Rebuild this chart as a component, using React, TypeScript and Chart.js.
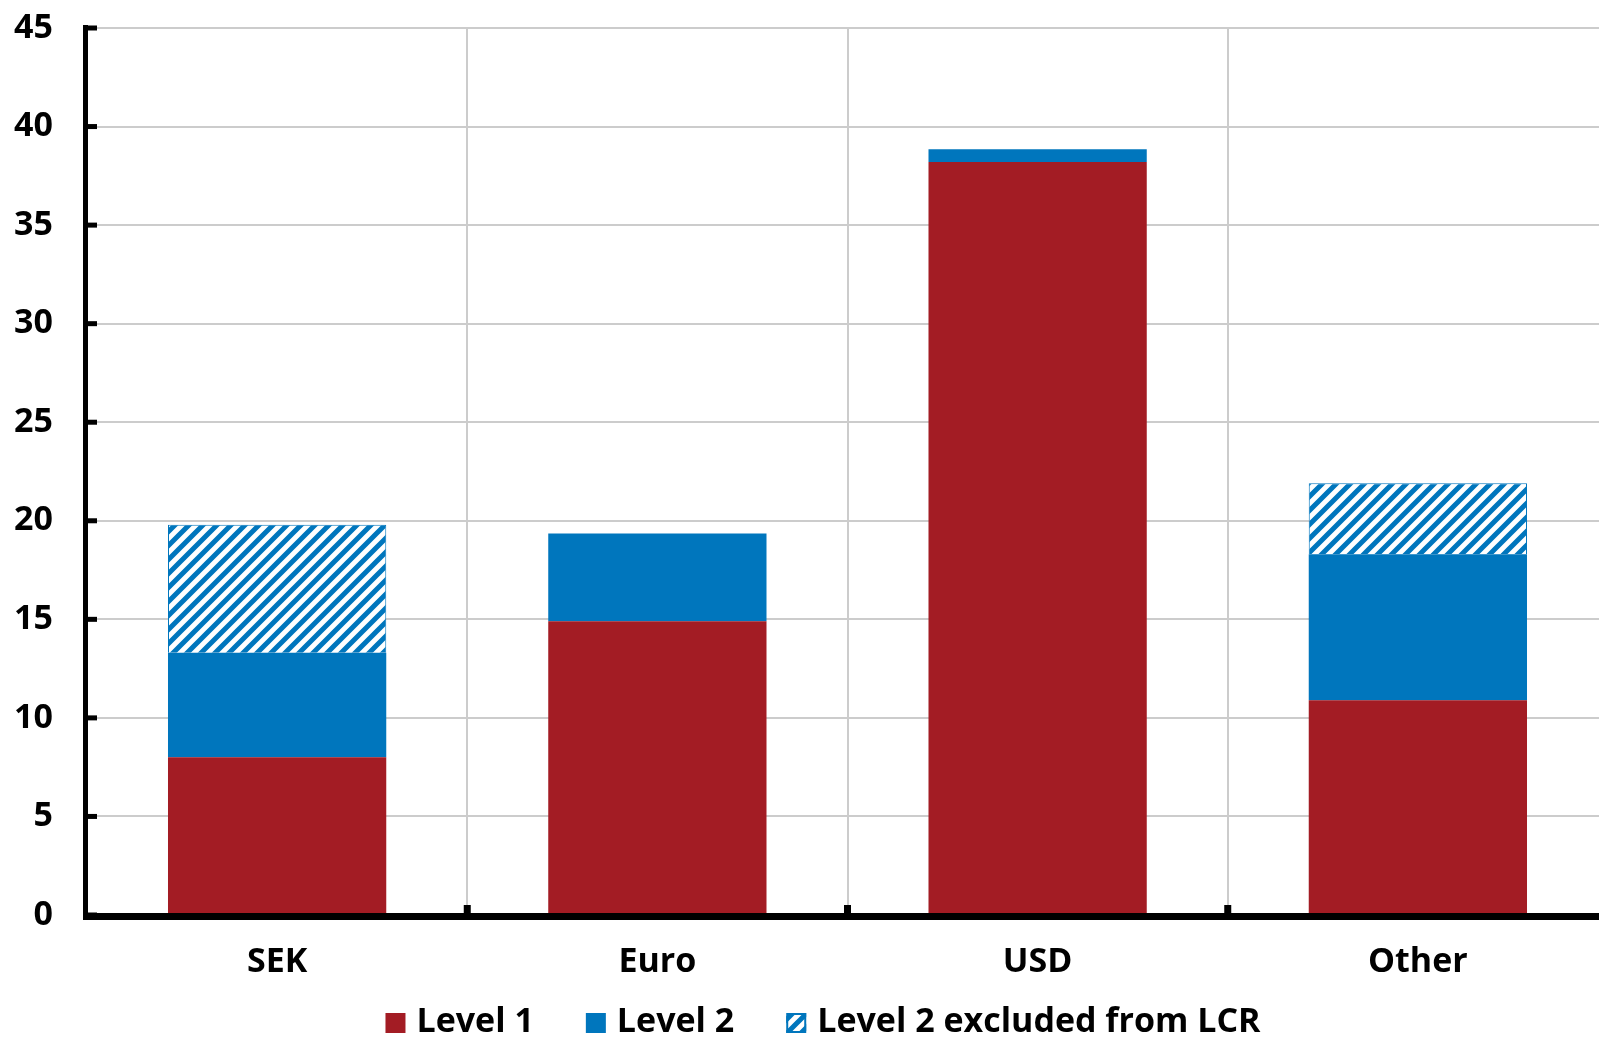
import React, { useEffect, useRef } from 'react';
import { Chart, registerables } from 'chart.js';

Chart.register(...registerables);

const categories = ['SEK', 'Euro', 'USD', 'Other'];
const level1 = [8.0, 14.9, 38.2, 10.9];
const level2 = [5.3, 4.45, 0.65, 7.4];
const level2Excluded: (number | null)[] = [6.5, null, null, 3.6];
const seriesLabels = ['Level 1', 'Level 2', 'Level 2 excluded from LCR'];
const yMin = 0;
const yMax = 45;
const yStep = 5;

const RED = '#A31C24';
const BLUE = '#0076BD';
const GRID = '#cccccc';
const FONT = '"Open Sans", "DejaVu Sans", sans-serif';

function makeHatch(size: number, lw: number): CanvasPattern | string {
  const c = document.createElement('canvas');
  c.width = size;
  c.height = size;
  const ctx = c.getContext('2d');
  if (!ctx) return BLUE;
  ctx.fillStyle = '#ffffff';
  ctx.fillRect(0, 0, size, size);
  ctx.strokeStyle = BLUE;
  ctx.lineWidth = lw;
  ctx.beginPath();
  for (const k of [-1, 0, 1]) {
    ctx.moveTo(k * size - 2, size + 2);
    ctx.lineTo(k * size + size + 2, -2);
  }
  ctx.stroke();
  return ctx.createPattern(c, 'repeat') || BLUE;
}

const axesPlugin = {
  id: 'customAxes',
  afterDatasetsDraw(chart: any) {
    const { ctx, chartArea: a, scales } = chart;
    const x = scales.x;
    const y = scales.y;
    ctx.save();
    ctx.fillStyle = '#000';
    const topY = y.getPixelForValue(yMax);
    ctx.fillRect(a.left - 4, topY - 3, 5, a.bottom + 5 - (topY - 3));
    y.ticks.forEach((t: any) => {
      const py = y.getPixelForValue(t.value);
      ctx.fillRect(a.left - 4, py - 2.5, 14, 5);
    });
    ctx.fillRect(a.left - 4, a.bottom - 2, a.right - a.left + 8, 7);
    const n = categories.length;
    for (let i = 1; i <= n; i++) {
      const p0 = x.getPixelForValue(i - 1);
      const p1 = i < n ? x.getPixelForValue(i) : p0 + (p0 - x.getPixelForValue(i - 2));
      const px = (p0 + p1) / 2;
      ctx.fillRect(px - 3.5, a.bottom - 10, 7, 10);
    }
    ctx.restore();
  },
};

const legendPlugin = {
  id: 'customLegend',
  afterDraw(chart: any) {
    const { ctx } = chart;
    const ds = chart.data.datasets;
    ctx.save();
    ctx.font = `bold 34px ${FONT}`;
    ctx.textBaseline = 'middle';
    ctx.textAlign = 'left';
    const box = 20;
    const gap = 11;
    const spacing = 52;
    const widths = ds.map((d: any) => box + gap + ctx.measureText(d.label).width);
    const total = widths.reduce((s: number, w: number) => s + w, 0) + spacing * (ds.length - 1);
    let xPos = 823 - total / 2;
    const boxTop = 1013;
    const textY = 1022;
    ds.forEach((d: any, i: number) => {
      ctx.fillStyle = d.backgroundColor;
      ctx.fillRect(xPos, boxTop, box, box);
      if (d.legendBorder) {
        ctx.strokeStyle = d.borderColor;
        ctx.lineWidth = 2;
        ctx.strokeRect(xPos + 1, boxTop + 1, box - 2, box - 2);
      }
      ctx.fillStyle = '#000';
      ctx.fillText(d.label, xPos + box + gap, textY);
      xPos += widths[i] + spacing;
    });
    ctx.restore();
  },
};

export default function App() {
  const ref = useRef<HTMLCanvasElement | null>(null);

  useEffect(() => {
    document.body.style.margin = '0';
    const canvas = ref.current;
    if (!canvas) return;
    const hatch = makeHatch(14, 5);
    const chart = new Chart(canvas, {
      type: 'bar',
      data: {
        labels: categories,
        datasets: [
          {
            label: seriesLabels[0],
            data: level1,
            backgroundColor: RED,
            borderWidth: 0,
          },
          {
            label: seriesLabels[1],
            data: level2,
            backgroundColor: BLUE,
            borderWidth: 0,
          },
          {
            label: seriesLabels[2],
            data: level2Excluded,
            backgroundColor: hatch as any,
            borderColor: BLUE,
            borderWidth: 1,
            legendBorder: true,
          } as any,
        ],
      },
      options: {
        responsive: false,
        maintainAspectRatio: false,
        devicePixelRatio: 1,
        animation: false,
        layout: { padding: { top: 28, left: 0, right: 0, bottom: 0 } },
        datasets: {
          bar: { barPercentage: 0.574, categoryPercentage: 1.0 },
        },
        plugins: {
          legend: { display: false },
          tooltip: { enabled: false },
        },
        scales: {
          x: {
            stacked: true,
            grid: { offset: true, color: GRID, lineWidth: 2, drawTicks: false },
            border: { display: false },
            ticks: {
              color: '#000',
              padding: 27,
              font: { family: FONT, size: 34, weight: 'bold' },
            },
            afterFit: (s: any) => {
              s.height = 122;
              s.paddingLeft = 0;
              s.paddingRight = 0;
            },
          },
          y: {
            stacked: true,
            min: yMin,
            max: yMax,
            grid: { color: GRID, lineWidth: 2, drawTicks: false },
            border: { display: false },
            ticks: {
              stepSize: yStep,
              color: '#000',
              padding: 34,
              font: { family: FONT, size: 34, weight: 'bold' },
            },
            afterFit: (s: any) => {
              s.width = 87;
              s.paddingTop = 0;
              s.paddingBottom = 0;
            },
          },
        },
      },
      plugins: [axesPlugin, legendPlugin],
    });
    return () => chart.destroy();
  }, []);

  return (
    <div style={{ width: 1599, height: 1037, overflow: 'hidden', background: '#fff' }}>
      <canvas ref={ref} width={1608} height={1037} style={{ display: 'block' }} />
    </div>
  );
}
